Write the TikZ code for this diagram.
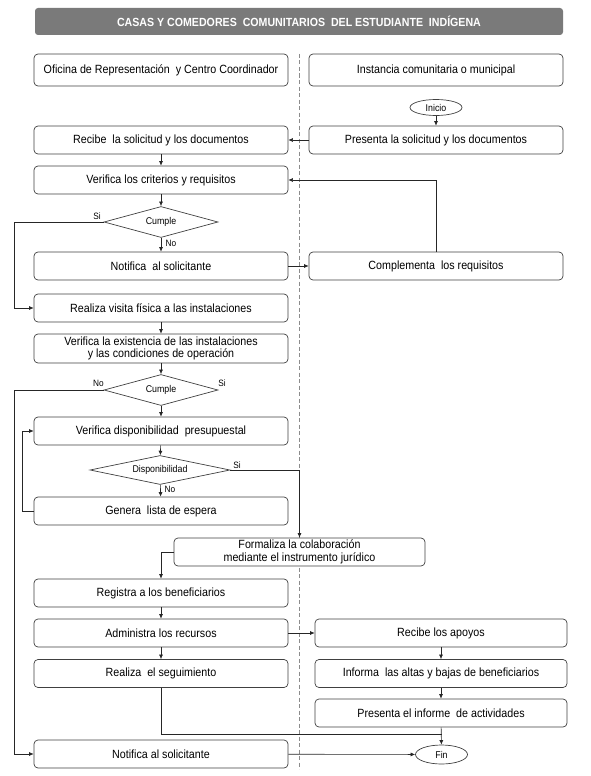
\documentclass[tikz,border=0pt]{standalone}
\usepackage{fontspec}
\setmainfont{Liberation Sans}[FakeStretch=0.9]
\usetikzlibrary{shapes.geometric,arrows.meta,calc}
\tikzset{
  box/.style={draw=black!75, line width=0.7pt, rounded corners=4pt, fill=white,
    minimum width=254pt, minimum height=28pt, inner sep=1pt, align=center,
    font=\fontsize{11.9}{12.6}\selectfont},
  dec/.style={draw=black!75, line width=0.7pt, diamond, aspect=3.7, inner sep=0pt,
    font=\fontsize{9.8}{10}\selectfont},
  term/.style={draw=black!75, line width=0.7pt, ellipse, inner sep=0pt,
    font=\fontsize{9.8}{10}\selectfont},
  lbl/.style={font=\fontsize{9.2}{10}\selectfont, inner sep=0pt},
  con/.style={draw=black!85, line width=0.6pt},
  arr/.style={con, -{Latex[length=4.5pt,width=4pt]}},
}
\begin{document}
\begin{tikzpicture}[x=1pt,y=-1pt]
\useasboundingbox (0,0) rectangle (590,776);
% title
\node[fill=black!52, rounded corners=3pt, minimum width=528pt, minimum height=27pt,
  text=white, font=\bfseries\fontsize{11.8}{12}\selectfont] (title) at (299,21.5)
  {CASAS Y COMEDORES\ \ COMUNITARIOS\ \ DEL ESTUDIANTE\ \ INDÍGENA};
% divider
\coordinate (dtop) at (299,54);
\coordinate (dbot) at (299,769);
\draw[black!45, line width=0.5pt, dash pattern=on 4pt off 2.5pt] (dtop) -- (dbot);
% headers
\node[box, minimum height=32pt] (hL) at (161,70) {Oficina de Representación\ \ y Centro Coordinador};
\node[box, minimum height=32pt] (hR) at (436,70) {Instancia comunitaria o municipal};
% nodes
\node[term, minimum width=52pt, minimum height=16pt] (inicio) at (436,107.5) {Inicio};
\node[box] (recibe) at (161,140) {Recibe\ \ la solicitud y los documentos};
\node[box] (presenta) at (436,140) {Presenta la solicitud y los documentos};
\node[box] (verif1) at (161,180) {Verifica los criterios y requisitos};
\node[dec, minimum width=114pt, minimum height=31pt] (cumple1) at (161,222) {Cumple};
\node[box] (notif1) at (161,266) {Notifica\ \ al solicitante};
\node[box] (compl) at (436,266) {Complementa\ \ los requisitos};
\node[box] (visita) at (161,308) {Realiza visita física a las instalaciones};
\node[box, minimum height=29pt] (verif2) at (161,348.5) {Verifica la existencia de las instalaciones\\y las condiciones de operación};
\node[dec, minimum width=114pt, minimum height=31pt] (cumple2) at (161,390) {Cumple};
\node[box] (verifdisp) at (161,431) {Verifica disponibilidad\ \ presupuestal};
\node[dec, minimum width=140pt, minimum height=29pt, aspect=4.8] (disp) at (160,470) {Disponibilidad};
\node[box] (genera) at (161,511) {Genera\ \ lista de espera};
\node[box, minimum width=251pt] (formaliza) at (299.5,552) {Formaliza la colaboración\\mediante el instrumento jurídico};
\node[box] (registra) at (161,593) {Registra a los beneficiarios};
\node[box] (administra) at (161,633) {Administra los recursos};
\node[box, minimum width=252pt] (recibeap) at (441,633) {Recibe los apoyos};
\node[box] (seguim) at (161,673.5) {Realiza\ \ el seguimiento};
\node[box, minimum width=252pt] (informa) at (441,673.5) {Informa\ \ las altas y bajas de beneficiarios};
\node[box, minimum width=252pt] (presinf) at (441,713) {Presenta el informe\ \ de actividades};
\node[box] (notif2) at (161,754) {Notifica al solicitante};
\node[term, minimum width=52pt, minimum height=19pt] (fin) at (441.5,754.5) {Fin};
% helper coordinates
\coordinate (c1) at (14,222);
\coordinate (c2) at (14,390);
\coordinate (c3) at (22.5,511);
\coordinate (j) at (441.5,734);
% connectors
\draw[arr] (inicio) -- (presenta);
\draw[arr] (presenta) -- (recibe);
\draw[arr] (recibe) -- (verif1);
\draw[arr] (compl.north) |- (verif1.east);
\draw[arr] (verif1) -- (cumple1);
\draw[arr] (cumple1.west) -- (c1) |- (visita.west);
\draw[arr] (cumple1) -- (notif1);
\draw[arr] (notif1) -- (compl);
\draw[arr] (visita) -- (verif2);
\draw[arr] (verif2) -- (cumple2);
\draw[arr] (cumple2) -- (verifdisp);
\draw[arr] (cumple2.west) -- (c2) |- (notif2.west);
\draw[arr] (verifdisp) -- (disp);
\draw[arr] (disp) -- (genera);
\draw[arr] (genera.west) -- (c3) |- (verifdisp.west);
\draw[arr] (disp.east) -| (formaliza.north);
\draw[arr] (formaliza.west) -| (registra.north);
\draw[arr] (registra) -- (administra);
\draw[arr] (administra) -- (seguim);
\draw[arr] (administra) -- (recibeap);
\draw[arr] (recibeap) -- (informa);
\draw[arr] (informa) -- (presinf);
\draw[arr] (presinf) -- (fin);
\draw[con] (seguim.south) |- (j);
\draw[arr] (notif2) -- (fin);
% labels
\node[lbl] (si1) at (97,216) {Si};
\node[lbl] (no1) at (171,243) {No};
\node[lbl] (no2) at (98.5,383) {No};
\node[lbl] (si2) at (222,383) {Si};
\node[lbl] (si3) at (237,465) {Si};
\node[lbl] (no3) at (170,489) {No};
\end{tikzpicture}
\end{document}
